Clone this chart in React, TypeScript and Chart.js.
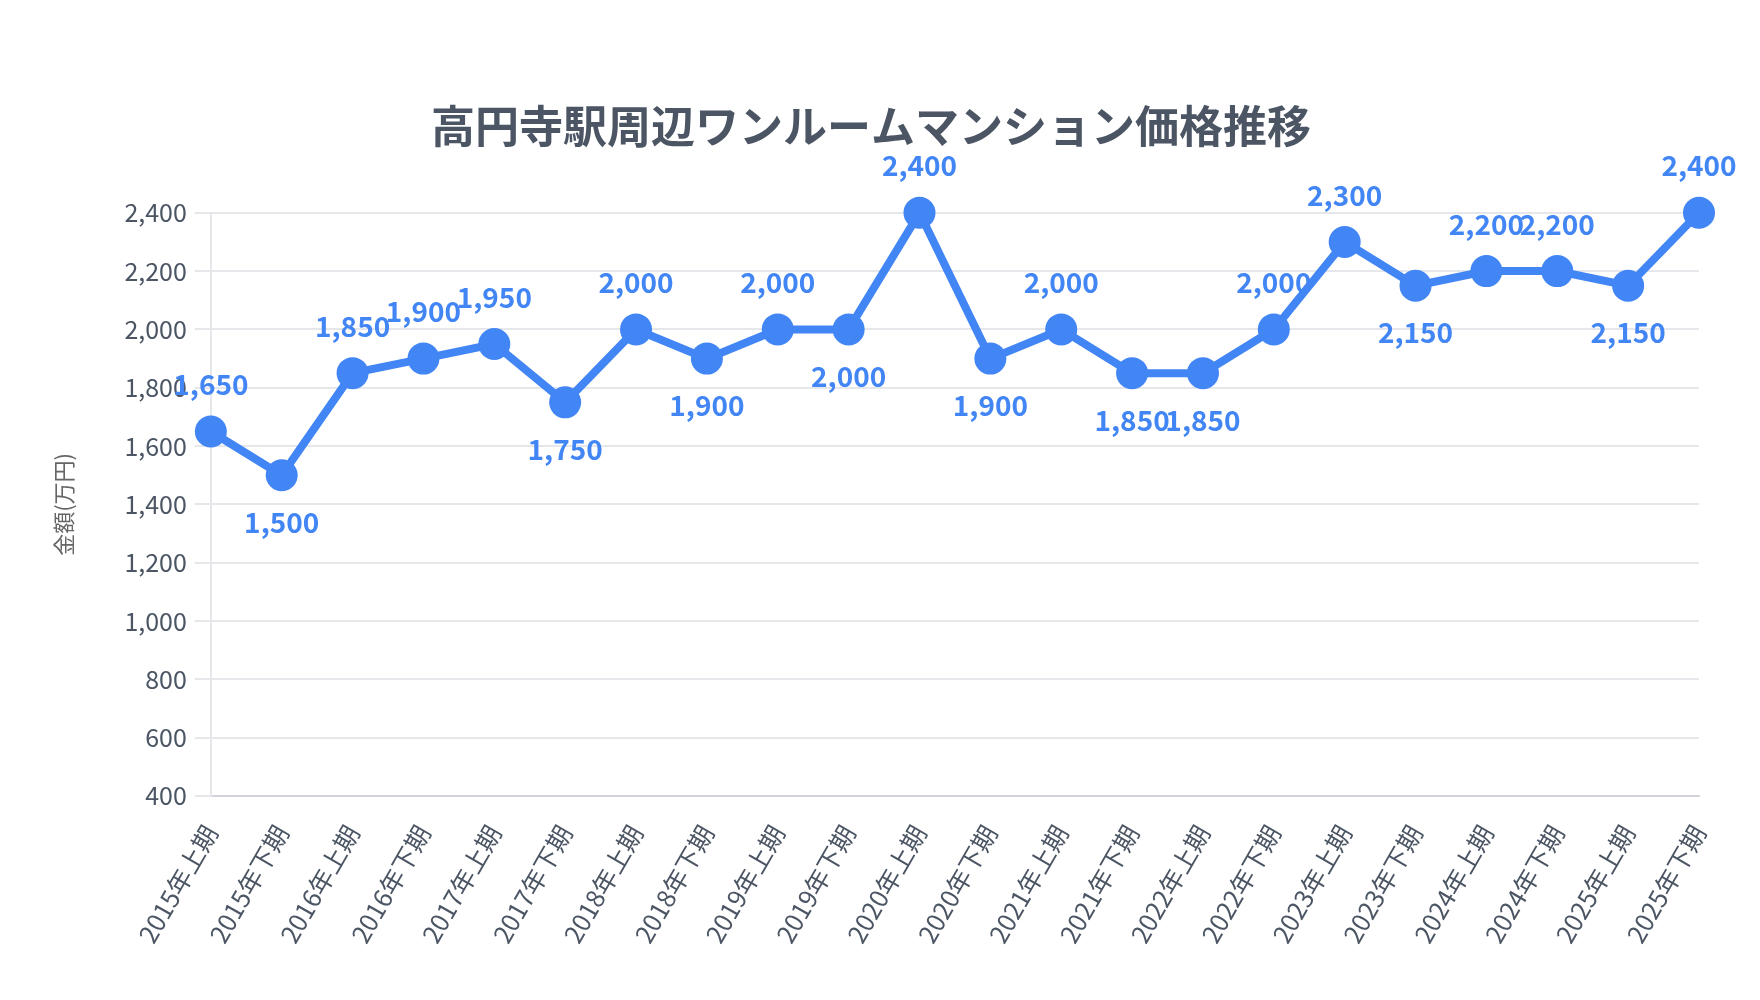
import React, { useEffect, useRef } from "react";
import { Chart, registerables } from "chart.js";

Chart.register(...registerables);

const TITLE = "高円寺駅周辺ワンルームマンション価格推移";
const Y_TITLE = "金額(万円)";

const periods = [
  "2015年上期", "2015年下期", "2016年上期", "2016年下期", "2017年上期", "2017年下期",
  "2018年上期", "2018年下期", "2019年上期", "2019年下期", "2020年上期", "2020年下期",
  "2021年上期", "2021年下期", "2022年上期", "2022年下期", "2023年上期", "2023年下期",
  "2024年上期", "2024年下期", "2025年上期", "2025年下期",
];

const prices = [
  1650, 1500, 1850, 1900, 1950, 1750, 2000, 1900, 2000, 2000, 2400, 1900,
  2000, 1850, 1850, 2000, 2300, 2150, 2200, 2200, 2150, 2400,
];

const yMin = 400;
const yMax = 2400;
const yStep = 200;

// label placement relative to the point (true = above)
const labelAbove = [
  true, false, true, true, true, false, true, false, true, false, true, false,
  true, false, false, true, true, false, true, true, false, true,
];

const FONT = "'Noto Sans CJK JP', 'Noto Sans', sans-serif";
const BLUE = "#4285f4";

const valueLabels = {
  id: "valueLabels",
  afterDatasetsDraw(chart: any) {
    const ctx = chart.ctx;
    const meta = chart.getDatasetMeta(0);
    ctx.save();
    ctx.font = `bold 28px ${FONT}`;
    ctx.fillStyle = BLUE;
    ctx.textAlign = "center";
    ctx.textBaseline = "middle";
    meta.data.forEach((pt: any, i: number) => {
      const v = chart.data.datasets[0].data[i] as number;
      const dy = labelAbove[i] ? -47 : 47;
      ctx.fillText(v.toLocaleString("en-US"), pt.x, pt.y + dy);
    });
    ctx.restore();
  },
};

export default function App() {
  const ref = useRef<HTMLCanvasElement | null>(null);
  useEffect(() => {
    if (!ref.current) return;
    const chart = new Chart(ref.current, {
      type: "line",
      data: {
        labels: periods,
        datasets: [
          {
            data: prices,
            borderColor: BLUE,
            backgroundColor: BLUE,
            borderWidth: 8,
            pointRadius: 16,
            pointBackgroundColor: BLUE,
            pointBorderColor: BLUE,
            pointBorderWidth: 0,
            tension: 0,
            fill: false,
            clip: false as any,
          },
        ],
      },
      options: {
        animation: false,
        responsive: true,
        maintainAspectRatio: false,
        layout: { padding: { top: 0, right: 53, bottom: 28, left: 35 } },
        plugins: {
          legend: { display: false },
          tooltip: { enabled: false },
          title: {
            display: true,
            text: TITLE,
            color: "#4b5563",
            font: { family: FONT, size: 44, weight: "bold" },
            padding: { top: 92, bottom: 60 },
          },
        },
        scales: {
          x: {
            grid: { display: false },
            border: { display: true, color: "#d1d5db", width: 2 },
            ticks: {
              color: "#4b5563",
              font: { family: FONT, size: 25 },
              minRotation: 60,
              maxRotation: 60,
              padding: 16,
              autoSkip: false,
            },
          },
          y: {
            min: yMin,
            max: yMax,
            grid: { color: "#e5e7eb", lineWidth: 2, tickLength: 16 },
            border: { display: true, color: "#e5e7eb", width: 2 },
            ticks: {
              stepSize: yStep,
              color: "#4b5563",
              font: { family: FONT, size: 25 },
              padding: 8,
              callback: (v: any) => Number(v).toLocaleString("en-US"),
            },
            title: {
              display: true,
              text: Y_TITLE,
              color: "#666666",
              font: { family: FONT, size: 22 },
              padding: { top: 7, bottom: 40 },
            },
          },
        },
      },
      plugins: [valueLabels],
    });
    return () => chart.destroy();
  }, []);
  return (
    <div style={{ width: 1744, height: 984, position: "relative" }}>
      <canvas ref={ref} />
    </div>
  );
}
